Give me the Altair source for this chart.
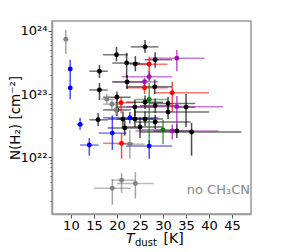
import altair as alt
import pandas as pd

groups = ["black", "gray", "blue", "red", "green", "purple"]
colors = ["#000000", "#808080", "#0000ff", "#ff0000", "#008000", "#a010b0"]

black_T   = [16.2, 16.2, 19.9, 26.1, 22.1, 24.0, 28.3, 28.2, 31.1, 35.0, 31.1, 36.2, 33.0, 15.9, 22.2, 20.0, 23.9, 26.1, 28.3, 21.3, 23.9, 26.1, 28.3, 21.7, 25.0, 20.0]
black_Tlo = [14.0, 14.0, 17.0, 23.0, 19.0, 22.7, 26.0, 22.0, 27.0, 33.0, 24.0, 25.0, 28.0, 14.0, 19.0, 17.0, 20.0, 22.0, 25.0, 18.0, 20.0, 23.0, 24.0, 18.0, 21.0, 17.0]
black_Thi = [18.0, 18.0, 22.4, 29.0, 25.0, 27.4, 32.0, 32.0, 37.0, 37.0, 40.0, 47.0, 36.0, 18.0, 26.0, 23.0, 28.0, 30.0, 33.0, 24.0, 28.0, 30.0, 36.0, 25.0, 30.0, 23.0]
black_N   = [2.3e23, 1.16e23, 4.2e23, 5.6e23, 3.1e23, 3.0e23, 3.5e23, 1.3e23, 7.1e22, 6.2e22, 5.2e22, 2.5e22, 2.6e22, 3.9e22, 1.55e23, 8.9e22, 6.2e22, 7.4e22, 6.5e22, 4.0e22, 4.0e22, 4.0e22, 3.6e22, 2.9e22, 3.0e22, 5.6e22]
black_Nlo = [1.8e23, 8.0e22, 3.3e23, 4.5e23, 1.8e23, 2.3e23, 2.6e23, 1.0e23, 5.5e22, 3.0e22, 4.0e22, 1.05e22, 2.0e22, 3.1e22, 1.2e23, 7.0e22, 4.5e22, 5.8e22, 5.0e22, 3.0e22, 3.0e22, 3.1e22, 2.8e22, 2.2e22, 2.0e22, 4.5e22]
black_Nhi = [2.9e23, 1.5e23, 5.6e23, 7.2e23, 4.5e23, 4.0e23, 4.6e23, 1.7e23, 9.0e22, 1.0e23, 6.8e22, 3.5e22, 3.3e22, 5.0e22, 2.0e23, 1.1e23, 8.2e22, 9.5e22, 8.5e22, 5.3e22, 5.5e22, 5.3e22, 4.7e22, 3.8e22, 4.2e22, 7.0e22]

gray_T   = [8.9, 19.0, 21.0, 24.0, 17.8, 18.9, 19.8, 22.8]
gray_Tlo = [8.4, 15.0, 18.9, 20.0, 16.5, 17.0, 18.0, 20.0]
gray_Thi = [9.4, 23.0, 23.9, 28.0, 19.5, 21.0, 22.0, 26.0]
gray_N   = [7.4e23, 3.2e21, 4.3e21, 3.8e21, 8.3e22, 6.9e22, 5.6e22, 1.6e22]
gray_Nlo = [4.3e23, 1.75e21, 2.7e21, 2.2e21, 7.0e22, 5.8e22, 4.6e22, 9.4e21]
gray_Nhi = [1.05e24, 4.5e21, 5.6e21, 5.8e21, 1.0e23, 8.3e22, 6.8e22, 2.7e22]

blue_T   = [9.85, 9.85, 12.0, 14.0, 19.0, 27.0, 22.8]
blue_Tlo = [9.4, 9.4, 11.3, 12.0, 16.0, 22.0, 17.0]
blue_Thi = [10.3, 10.3, 12.7, 16.0, 22.0, 32.0, 29.0]
blue_N   = [2.5e23, 1.25e23, 3.3e22, 1.55e22, 2.4e22, 1.5e22, 4.2e22]
blue_Nlo = [1.67e23, 8.3e22, 2.7e22, 1.05e22, 1.3e22, 9.4e21, 3.4e22]
blue_Nhi = [3.5e23, 1.67e23, 4.2e22, 2.0e22, 4.6e22, 1.86e22, 5.2e22]

red_T   = [20.9, 21.0, 27.0, 32.0, 26.0]
red_Tlo = [19.6, 17.0, 24.0, 28.0, 22.0]
red_Thi = [24.0, 23.5, 31.0, 40.0, 31.0]
red_N   = [7.3e22, 1.65e22, 2.96e23, 1.05e23, 1.26e23]
red_Nlo = [5.0e22, 9.4e21, 1.67e23, 5.2e22, 1.0e23]
red_Nhi = [8.9e22, 2.4e22, 3.9e23, 1.57e23, 1.6e23]

green_T   = [27.0, 30.0]
green_Tlo = [24.0, 25.0]
green_Thi = [31.0, 33.0]
green_N   = [8.2e22, 2.7e22]
green_Nlo = [1.66e22, 1.6e22]
green_Nhi = [1.5e23, 3.9e22]

purple_T   = [33.0, 27.0, 26.0, 33.0, 32.0]
purple_Tlo = [27.0, 21.0, 19.0, 22.0, 24.0]
purple_Thi = [39.0, 32.0, 29.0, 43.0, 42.0]
purple_N   = [3.7e23, 1.88e23, 1.57e23, 6.3e22, 2.6e22]
purple_Nlo = [2.3e23, 1.6e23, 1.35e23, 3.1e22, 1.9e22]
purple_Nhi = [5.0e23, 2.3e23, 1.8e23, 9.3e22, 3.3e22]

x_ticks = [10, 15, 20, 25, 30, 35, 40, 45]
y_major = [1e22, 1e23, 1e24]
y_minor = [m * 10.0 ** e for e in (21, 22, 23) for m in range(2, 10)]

src = {
    "black": (black_T, black_Tlo, black_Thi, black_N, black_Nlo, black_Nhi),
    "gray": (gray_T, gray_Tlo, gray_Thi, gray_N, gray_Nlo, gray_Nhi),
    "blue": (blue_T, blue_Tlo, blue_Thi, blue_N, blue_Nlo, blue_Nhi),
    "red": (red_T, red_Tlo, red_Thi, red_N, red_Nlo, red_Nhi),
    "green": (green_T, green_Tlo, green_Thi, green_N, green_Nlo, green_Nhi),
    "purple": (purple_T, purple_Tlo, purple_Thi, purple_N, purple_Nlo, purple_Nhi),
}
frames = []
for g in groups:
    T, Tlo, Thi, N, Nlo, Nhi = src[g]
    frames.append(pd.DataFrame({"grp": g, "T": T, "Tlo": Tlo, "Thi": Thi, "N": N, "Nlo": Nlo, "Nhi": Nhi}))
df = pd.concat(frames, ignore_index=True)
df["order"] = range(len(df))

W, H = 199, 193
xscale = alt.Scale(domain=[5.9, 49.1], nice=False, zero=False)
yscale = alt.Scale(type="log", domain=[1.25e21, 1.44e24], nice=False)
cscale = alt.Scale(domain=groups, range=colors)
FONT = "DejaVu Sans"

major_test = "abs(log(datum.value)/LN10 - round(log(datum.value)/LN10)) < 0.01"
label_expr = ("abs(datum.value/1e22-1)<0.01 ? '10²²' : abs(datum.value/1e23-1)<0.01 ? '10²³' : "
              "abs(datum.value/1e24-1)<0.01 ? '10²⁴' : ''")

x_axis = alt.Axis(
    values=x_ticks, title=None, labelFontSize=13, labelFont=FONT, labelColor="black",
    tickSize=4, tickColor="#555", domainColor="#999", domainWidth=1.5,
    labelPadding=1, grid=False, labelFlush=False)
y_axis = alt.Axis(
    values=y_major + y_minor, labelExpr=label_expr, labelOverlap=False,
    labelFontSize=13, labelFont=FONT, labelColor="black",
    tickSize={"condition": {"test": major_test, "value": 4}, "value": 2},
    tickColor="#555", domainColor="#999", domainWidth=1.5, labelPadding=1, grid=False,
    title="N(H₂) [cm⁻²]", titleFont=FONT, titleFontSize=13.5, titleFontWeight="normal",
    titleColor="black", titleX=-30, titleY=H / 2)

color = alt.Color("grp:N", scale=cscale, legend=None)
base = alt.Chart(df)

hbars = base.mark_rule(strokeWidth=1.5, opacity=0.55, clip=True).encode(
    x=alt.X("Tlo:Q", scale=xscale, axis=x_axis),
    x2="Thi:Q",
    y=alt.Y("N:Q", scale=yscale, axis=y_axis),
    color=color,
    order="order:Q",
)
vbars = base.mark_rule(strokeWidth=1.5, opacity=0.7, clip=True).encode(
    x=alt.X("T:Q", scale=xscale, axis=x_axis),
    y=alt.Y("Nlo:Q", scale=yscale, axis=y_axis),
    y2="Nhi:Q",
    color=color,
    order="order:Q",
)
pts = base.mark_circle(size=24, opacity=1, clip=True).encode(
    x=alt.X("T:Q", scale=xscale, axis=x_axis),
    y=alt.Y("N:Q", scale=yscale, axis=y_axis),
    color=color,
    order="order:Q",
)

one = pd.DataFrame({"k": [0]})
t_T = alt.Chart(one).mark_text(text="T", font=FONT, fontSize=14, fontStyle="italic",
                               align="left", baseline="alphabetic", color="black").encode(
    x=alt.value(74), y=alt.value(222))
t_dust = alt.Chart(one).mark_text(text="dust", font=FONT, fontSize=10,
                                  align="left", baseline="alphabetic", color="black").encode(
    x=alt.value(83), y=alt.value(225))
t_K = alt.Chart(one).mark_text(text="[K]", font=FONT, fontSize=14,
                               align="left", baseline="alphabetic", color="black").encode(
    x=alt.value(111.5), y=alt.value(222))
note = alt.Chart(one).mark_text(text="no CH₃CN", font=FONT, fontSize=13,
                                align="right", baseline="alphabetic", color="#888").encode(
    x=alt.value(W - 1), y=alt.value(173))

chart = alt.layer(hbars, vbars, pts, t_T, t_dust, t_K, note).properties(
    width=W, height=H,
    autosize=alt.AutoSizeParams(type="none"),
    padding={"left": 44, "top": 13, "right": 19, "bottom": 35},
).configure_view(stroke="#999", strokeWidth=1.5)

chart.save("out.html", embed_options={"renderer": "svg", "actions": False})
